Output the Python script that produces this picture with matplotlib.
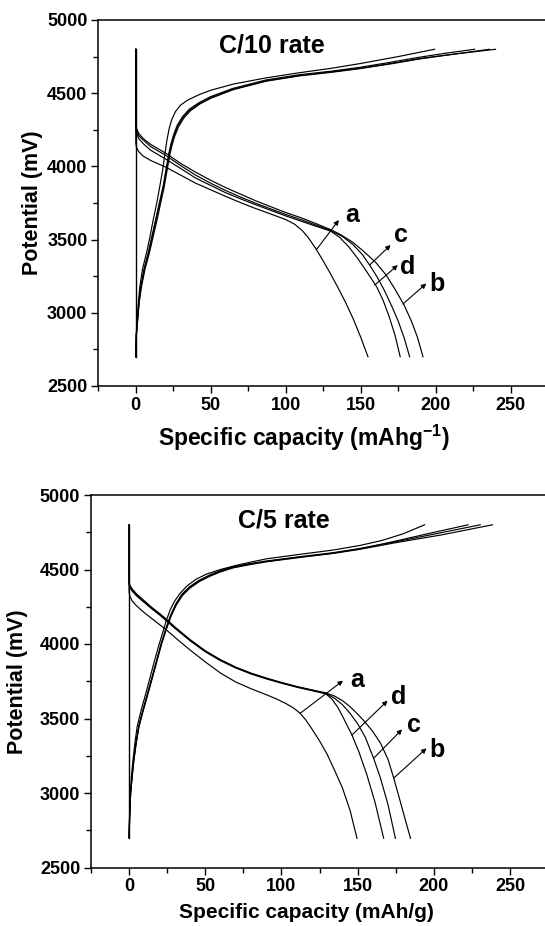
import matplotlib
matplotlib.use("Agg")
import matplotlib.pyplot as plt
from matplotlib.ticker import MultipleLocator

plt.rcParams['font.family'] = ['Liberation Sans', 'DejaVu Sans']
plt.rcParams['font.weight'] = 'bold'
plt.rcParams['mathtext.fontset'] = 'custom'
plt.rcParams['mathtext.rm'] = 'Liberation Sans:bold'
plt.rcParams['mathtext.bf'] = 'Liberation Sans:bold'
plt.rcParams['mathtext.default'] = 'rm'

# ---------------- C/10 rate (top) ----------------
top_rest_x = [0, 0]
top_rest_y = [2700, 4800]

top_chg_a_x = [0, 0.3, 0.9, 1.8, 2.7, 4.5, 7.1, 9.5, 11.6, 14, 16, 18, 19.5, 20.8, 22.3, 24, 26.5, 30, 35, 42.7, 50, 64.9, 87.1, 109.3, 131.6, 150, 175, 199.3]
top_chg_a_y = [2700, 2850, 2951, 3080, 3178, 3300, 3406, 3520, 3634, 3750, 3862, 3980, 4090, 4180, 4260, 4320, 4375, 4420, 4455, 4492, 4520, 4562, 4605, 4640, 4672, 4703, 4750, 4800]
top_chg_b_x = [0, 0.4, 1.2, 2.2, 3.5, 5.8, 8.5, 11, 13.5, 16, 18.5, 20.5, 22.2, 23.8, 25.5, 28, 31.6, 36, 42.7, 50, 64.9, 87.1, 109.3, 130, 149.3, 170, 190, 215, 240]
top_chg_b_y = [2700, 2850, 2951, 3080, 3178, 3300, 3406, 3520, 3634, 3750, 3862, 3980, 4080, 4150, 4210, 4275, 4335, 4385, 4431, 4470, 4527, 4585, 4621, 4645, 4670, 4703, 4738, 4770, 4800]
top_chg_c_x = [0, 0.4, 1.3, 2.4, 3.8, 6.2, 9.0, 11.6, 14.2, 16.6, 19.0, 21.0, 22.7, 24.3, 26.0, 28.5, 32, 36.5, 43, 50.5, 65, 87, 109, 130, 149, 170, 190, 213, 236]
top_chg_c_y = [2700, 2850, 2951, 3080, 3178, 3300, 3406, 3520, 3634, 3750, 3862, 3980, 4080, 4148, 4207, 4270, 4330, 4380, 4428, 4467, 4524, 4582, 4618, 4642, 4667, 4700, 4735, 4768, 4800]
top_chg_d_x = [0, 0.4, 1.1, 2.1, 3.3, 5.5, 8.2, 10.7, 13.2, 15.7, 18.2, 20.2, 21.9, 23.5, 25.2, 27.6, 31.2, 35.6, 42.3, 49.6, 64.5, 86.7, 109, 130, 149, 168, 187, 206, 226]
top_chg_d_y = [2700, 2850, 2951, 3080, 3178, 3300, 3406, 3520, 3634, 3750, 3862, 3980, 4082, 4155, 4215, 4280, 4340, 4390, 4436, 4475, 4532, 4590, 4626, 4650, 4676, 4708, 4742, 4772, 4800]

top_dis_a_x = [0, 0, 0.5, 2, 5, 10, 20, 30, 40, 50, 60, 70, 80, 90, 100, 106, 111, 115, 120, 125, 130, 135, 140, 145, 150, 154.9]
top_dis_a_y = [4800, 4160, 4130, 4100, 4070, 4040, 3995, 3940, 3885, 3840, 3795, 3752, 3712, 3675, 3637, 3605, 3562, 3515, 3440, 3355, 3265, 3170, 3070, 2960, 2835, 2700]
top_dis_b_x = [0, 0, 0.5, 2, 5, 10, 20, 30, 40, 50, 60, 70, 80, 90, 100, 110, 120, 130, 137, 145, 152, 160, 167, 173, 179, 184, 188, 191.6]
top_dis_b_y = [4800, 4300, 4260, 4225, 4190, 4150, 4090, 4020, 3960, 3905, 3855, 3810, 3765, 3725, 3685, 3650, 3610, 3568, 3532, 3480, 3420, 3345, 3258, 3160, 3053, 2940, 2830, 2700]
top_dis_c_x = [0, 0, 0.5, 2, 5, 10, 20, 30, 40, 50, 60, 70, 80, 90, 100, 110, 120, 130, 138, 145, 151, 156, 161, 166, 171, 175, 179, 182.7]
top_dis_c_y = [4800, 4290, 4245, 4210, 4180, 4135, 4075, 4005, 3940, 3885, 3835, 3790, 3748, 3710, 3672, 3637, 3600, 3563, 3520, 3465, 3400, 3326, 3245, 3150, 3040, 2945, 2830, 2700]
top_dis_d_x = [0, 0, 0.5, 2, 5, 10, 20, 30, 40, 50, 60, 70, 80, 90, 100, 110, 120, 130, 136, 142, 148, 154, 160.7, 165, 169, 173, 176.4]
top_dis_d_y = [4800, 4270, 4225, 4190, 4155, 4110, 4050, 3985, 3920, 3870, 3820, 3778, 3738, 3700, 3662, 3627, 3592, 3558, 3515, 3452, 3372, 3282, 3178, 3085, 2975, 2845, 2700]

top_labels = ['a', 'c', 'd', 'b']
top_label_x = [144.3, 177, 181.6, 201]
top_label_y = [3668, 3531, 3315, 3200]
top_arrow_from_x = [120.4, 156, 159.5, 178.2]
top_arrow_from_y = [3430, 3326, 3190, 3060]
top_arrow_to_x = [135.5, 170, 174.8, 193.8]
top_arrow_to_y = [3634, 3463, 3326, 3200]

# ---------------- C/5 rate (bottom) ----------------
bot_rest_x = [0, 0]
bot_rest_y = [2700, 4800]

bot_chg_a_x = [0, 0.3, 0.8, 1.5, 2.6, 3.8, 5.3, 8, 11, 13.9, 16.8, 19.5, 22, 24.5, 27, 30, 33.5, 38, 44, 51, 60, 70, 80, 90.4, 112.3, 134.2, 151.8, 166, 180, 194]
bot_chg_a_y = [2700, 2850, 2998, 3110, 3222, 3335, 3445, 3560, 3669, 3780, 3893, 3990, 4075, 4160, 4230, 4290, 4340, 4390, 4435, 4470, 4500, 4527, 4550, 4572, 4602, 4631, 4662, 4695, 4740, 4800]
bot_chg_b_x = [0, 0.4, 1, 2, 3.2, 4.7, 6.5, 9.5, 12.5, 15.5, 18.5, 21.5, 24.5, 27.5, 31, 35, 39.9, 46, 53.1, 60, 68.4, 80, 90.4, 112.3, 134.2, 151.8, 175, 205, 238.5]
bot_chg_b_y = [2700, 2850, 2998, 3110, 3222, 3335, 3445, 3560, 3669, 3780, 3893, 4005, 4100, 4185, 4262, 4325, 4375, 4418, 4455, 4484, 4511, 4534, 4552, 4581, 4608, 4636, 4680, 4732, 4800]
bot_chg_c_x = [0, 0.4, 1, 1.9, 3.0, 4.5, 6.2, 9.1, 12.1, 15.1, 18.1, 21.1, 24.1, 27.1, 30.6, 34.5, 39.4, 45.5, 52.6, 59.5, 67.9, 79.5, 90, 112, 134, 151.5, 175, 200, 230.5]
bot_chg_c_y = [2700, 2850, 2998, 3110, 3222, 3335, 3445, 3560, 3669, 3780, 3893, 4005, 4102, 4190, 4268, 4332, 4382, 4425, 4462, 4491, 4518, 4540, 4557, 4586, 4613, 4641, 4686, 4737, 4800]
bot_chg_d_x = [0, 0.4, 1, 2, 3.1, 4.6, 6.4, 9.3, 12.3, 15.3, 18.3, 21.3, 24.3, 27.3, 30.8, 34.7, 39.6, 45.7, 52.8, 59.7, 68, 79.7, 90, 112, 134, 151.5, 172, 196, 222.5]
bot_chg_d_y = [2700, 2850, 2998, 3110, 3222, 3335, 3445, 3560, 3669, 3780, 3893, 4005, 4101, 4188, 4265, 4328, 4378, 4421, 4458, 4487, 4514, 4537, 4554, 4583, 4610, 4639, 4684, 4740, 4800]

bot_dis_a_x = [0, 0, 0.5, 2, 5, 10, 15, 20, 25, 30, 40, 50, 60, 70, 80, 90, 97, 103, 108, 112.3, 116, 120, 125, 130, 135, 140, 145, 149.6]
bot_dis_a_y = [4800, 4350, 4320, 4290, 4255, 4210, 4170, 4130, 4090, 4045, 3960, 3880, 3805, 3745, 3700, 3660, 3630, 3600, 3570, 3535, 3490, 3430, 3350, 3260, 3150, 3035, 2885, 2696]
bot_dis_b_x = [0, 0, 0.5, 2, 5, 10, 15, 20, 24.6, 30, 40, 50, 60, 70, 80, 90, 100, 110, 120, 129, 135, 140, 145, 150, 155, 160, 165, 170, 173.7, 177, 180.5, 184.7]
bot_dis_b_y = [4800, 4420, 4395, 4370, 4335, 4290, 4245, 4205, 4165, 4115, 4030, 3955, 3895, 3845, 3805, 3772, 3742, 3715, 3692, 3672, 3650, 3620, 3580, 3530, 3475, 3412, 3335, 3225, 3100, 2980, 2850, 2696]
bot_dis_c_x = [0, 0, 0.5, 2, 5, 10, 15, 20, 24.6, 30, 40, 50, 60, 70, 80, 90, 100, 110, 120, 129, 135, 140, 145, 150, 155, 160.5, 165, 170, 174.8]
bot_dis_c_y = [4800, 4410, 4388, 4362, 4328, 4284, 4240, 4200, 4160, 4110, 4026, 3951, 3891, 3842, 3802, 3769, 3740, 3713, 3690, 3669, 3635, 3593, 3535, 3465, 3375, 3233, 3100, 2920, 2696]
bot_dis_d_x = [0, 0, 0.5, 2, 5, 10, 15, 20, 24.6, 30, 40, 50, 60, 70, 80, 90, 100, 110, 120, 129, 133, 137, 141, 146.3, 151, 156, 161.5, 167.1]
bot_dis_d_y = [4800, 4400, 4380, 4355, 4322, 4278, 4235, 4195, 4155, 4106, 4022, 3948, 3888, 3839, 3799, 3766, 3737, 3710, 3687, 3666, 3632, 3575, 3497, 3389, 3272, 3125, 2935, 2696]

bot_labels = ['a', 'd', 'c', 'b']
bot_label_x = [150, 177.2, 186.9, 202]
bot_label_y = [3760, 3646, 3456, 3289]
bot_arrow_from_x = [112.3, 146.3, 160.5, 173.7]
bot_arrow_from_y = [3535, 3389, 3233, 3100]
bot_arrow_to_x = [140.4, 169.7, 179.2, 195.2]
bot_arrow_to_y = [3754, 3620, 3427, 3300]

W, H = 545, 926
fig = plt.figure(figsize=(W / 100, H / 100), dpi=100)

ax1 = fig.add_axes([98.3 / W, (H - 386) / H, (545 - 98.3) / W, 366 / H])
ax2 = fig.add_axes([91 / W, (H - 867.5) / H, (545 - 91) / W, 372.5 / H])


def style(ax):
    ax.set_xlim(-25, 273)
    ax.set_ylim(2500, 5000)
    ax.xaxis.set_major_locator(MultipleLocator(50))
    ax.xaxis.set_minor_locator(MultipleLocator(25))
    ax.yaxis.set_major_locator(MultipleLocator(500))
    ax.yaxis.set_minor_locator(MultipleLocator(250))
    ax.tick_params(which='both', direction='out', width=1.0, labelsize=13, pad=3)
    ax.tick_params(which='major', length=4.8)
    ax.tick_params(which='minor', length=3.4)
    ax.tick_params(top=False, right=False)
    ax.spines['right'].set_visible(False)
    for s in ['left', 'bottom', 'top']:
        ax.spines[s].set_linewidth(1.1)
    for lab in ax.get_xticklabels() + ax.get_yticklabels():
        lab.set_fontweight('bold')


lw = 0.85
# top
ax1.plot(top_rest_x, top_rest_y, color='black', lw=1.0)
for xs, ys in [(top_chg_a_x, top_chg_a_y), (top_chg_b_x, top_chg_b_y), (top_chg_c_x, top_chg_c_y), (top_chg_d_x, top_chg_d_y),
               (top_dis_a_x, top_dis_a_y), (top_dis_b_x, top_dis_b_y), (top_dis_c_x, top_dis_c_y), (top_dis_d_x, top_dis_d_y)]:
    ax1.plot(xs, ys, color='black', lw=lw)
for t, tx, ty, fx, fy, hx, hy in zip(top_labels, top_label_x, top_label_y, top_arrow_from_x, top_arrow_from_y, top_arrow_to_x, top_arrow_to_y):
    ax1.annotate('', xy=(hx, hy), xytext=(fx, fy),
                 arrowprops=dict(arrowstyle='-|>', lw=0.8, color='black', mutation_scale=7, shrinkA=0, shrinkB=0))
    ax1.text(tx, ty, t, ha='center', va='center', fontsize=18, fontweight='bold')
ax1.text(91, 4829, 'C/10 rate', ha='center', va='center', fontsize=18, fontweight='bold')
style(ax1)
ax1.set_xlabel(r'Specific capacity (mAhg$^{-1}$)', fontsize=16.5, fontweight='bold')
ax1.set_ylabel('Potential (mV)', fontsize=15.5, fontweight='bold')
ax1.xaxis.set_label_coords(0.46, -0.142)
ax1.xaxis.label.set_va('center')
ax1.yaxis.set_label_coords(-0.148, 0.5)
ax1.yaxis.label.set_va('center')

# bottom
ax2.plot(bot_rest_x, bot_rest_y, color='black', lw=1.0)
for xs, ys in [(bot_chg_a_x, bot_chg_a_y), (bot_chg_b_x, bot_chg_b_y), (bot_chg_c_x, bot_chg_c_y), (bot_chg_d_x, bot_chg_d_y),
               (bot_dis_a_x, bot_dis_a_y), (bot_dis_b_x, bot_dis_b_y), (bot_dis_c_x, bot_dis_c_y), (bot_dis_d_x, bot_dis_d_y)]:
    ax2.plot(xs, ys, color='black', lw=lw)
for t, tx, ty, fx, fy, hx, hy in zip(bot_labels, bot_label_x, bot_label_y, bot_arrow_from_x, bot_arrow_from_y, bot_arrow_to_x, bot_arrow_to_y):
    ax2.annotate('', xy=(hx, hy), xytext=(fx, fy),
                 arrowprops=dict(arrowstyle='-|>', lw=0.8, color='black', mutation_scale=7, shrinkA=0, shrinkB=0))
    ax2.text(tx, ty, t, ha='center', va='center', fontsize=18, fontweight='bold')
ax2.text(101.9, 4827, 'C/5 rate', ha='center', va='center', fontsize=18, fontweight='bold')
style(ax2)
ax2.set_xlabel('Specific capacity (mAh/g)', fontsize=15, fontweight='bold')
ax2.set_ylabel('Potential (mV)', fontsize=15.5, fontweight='bold')
ax2.xaxis.set_label_coords(0.4736, -0.122)
ax2.xaxis.label.set_va('center')
ax2.yaxis.set_label_coords(-0.161, 0.5)
ax2.yaxis.label.set_va('center')

fig.savefig('out.png', dpi=100)
